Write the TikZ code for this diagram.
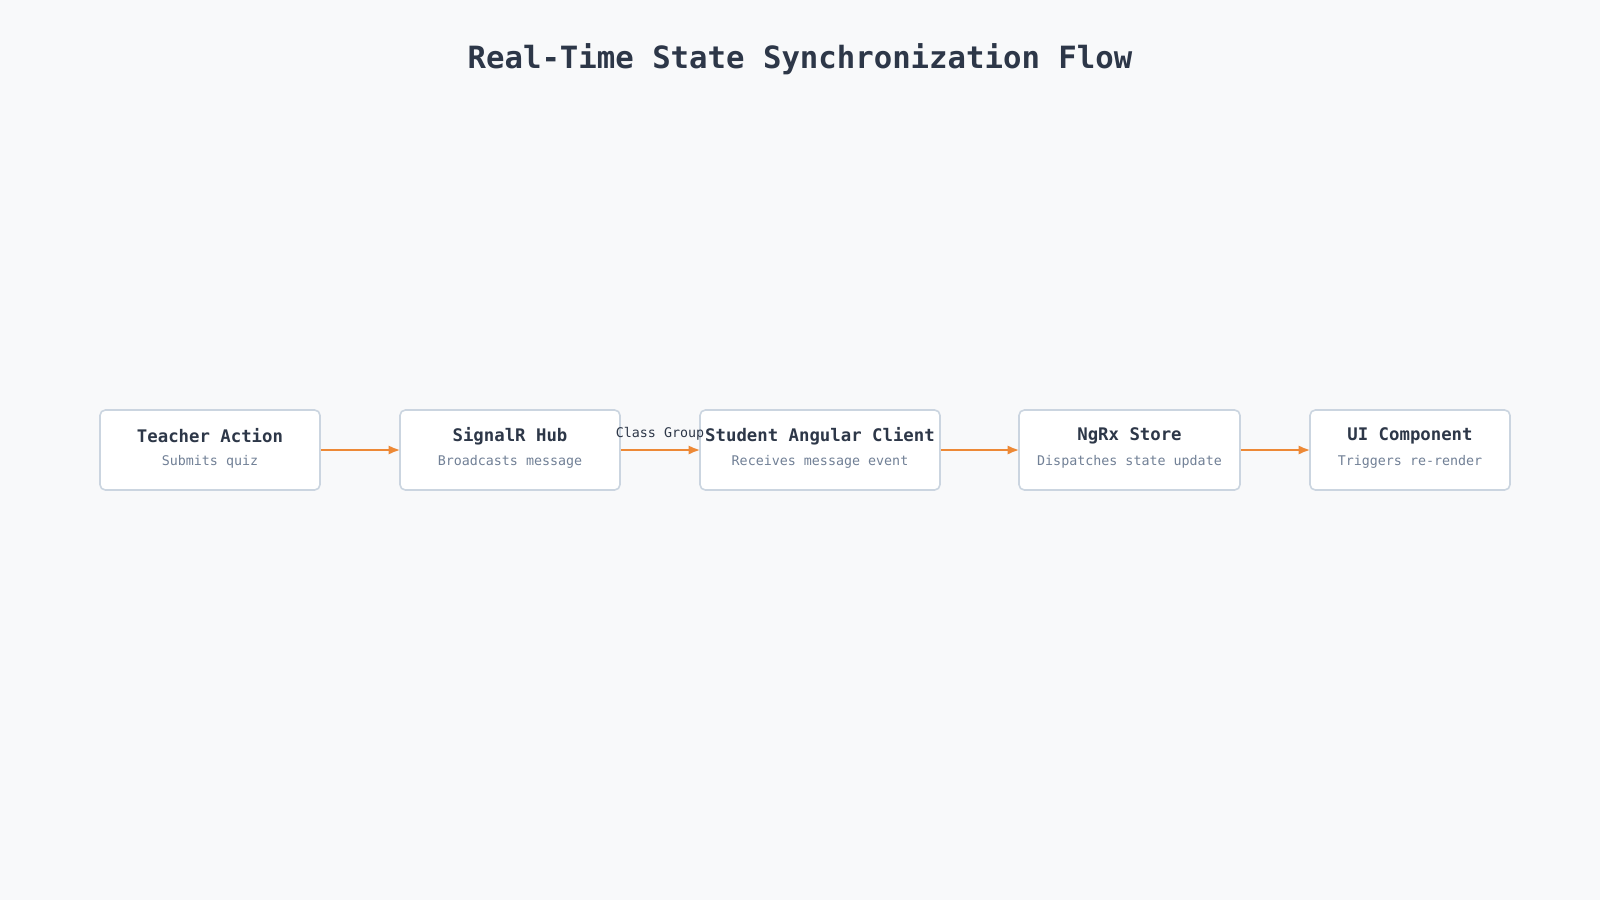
\documentclass[tikz,border=0pt]{standalone}
\usepackage{fontspec}
\setmonofont{DejaVu Sans Mono}
\usetikzlibrary{arrows.meta}
\definecolor{bgcol}{HTML}{F8F9FA}
\definecolor{boxline}{HTML}{CBD5E0}
\definecolor{headcol}{HTML}{2D3748}
\definecolor{subcol}{HTML}{718096}
\definecolor{flowcol}{HTML}{ED8936}
\tikzset{every picture/.style={line width=0.75pt}}
\tikzset{
  stage/.style={draw=boxline, fill=white, rounded corners=4pt, line width=1.2pt, minimum height=60pt, inner sep=0pt},
  head/.style={text=headcol, font=\ttfamily\bfseries\fontsize{13}{15}\selectfont},
  sub/.style={text=subcol, font=\ttfamily\fontsize{10}{12}\selectfont},
  flow/.style={draw=flowcol, line width=1.8pt, -{Latex[length=9pt,width=7pt]}, shorten >=-1pt},
}

\begin{document}
\begin{tikzpicture}[x=0.75pt,y=0.75pt,yscale=-1,xscale=1]
        \path[fill=bgcol] (0,0) rectangle (1600,900);

        % Title
        \node (title) at (800,59) {\ttfamily\bfseries\fontsize{23}{27}\selectfont\color{headcol}Real-Time State Synchronization Flow};

        % Stages
        \node[stage, minimum width=165pt] (teacher) at (210,450) {};
        \node[stage, minimum width=165pt] (hub) at (510,450) {};
        \node[stage, minimum width=180pt] (client) at (820,450) {};
        \node[stage, minimum width=165.75pt] (store) at (1129.5,450) {};
        \node[stage, minimum width=150pt] (ui) at (1410,450) {};

        % Text Nodes
        \node[head] (teacherH) at (210,436) {Teacher Action};
        \node[sub] (teacherS) at (210,462) {Submits quiz};
        \node[head] (hubH) at (510,436) {SignalR Hub};
        \node[sub] (hubS) at (510,462) {Broadcasts message};
        \node[head] (clientH) at (820,436) {Student Angular Client};
        \node[sub] (clientS) at (820,462) {Receives message event};
        \node[head] (storeH) at (1129.5,436) {NgRx Store};
        \node[sub] (storeS) at (1129.5,462) {Dispatches state update};
        \node[head] (uiH) at (1410,436) {UI Component};
        \node[sub] (uiS) at (1410,462) {Triggers re-render};

        % Connectors
        \draw[flow] (teacher) -- (hub);
        \draw[flow] (hub) -- node[above=3pt, text=headcol, font=\ttfamily\fontsize{10}{12}\selectfont] {Class Group} (client);
        \draw[flow] (client) -- (store);
        \draw[flow] (store) -- (ui);
\end{tikzpicture}
\end{document}
